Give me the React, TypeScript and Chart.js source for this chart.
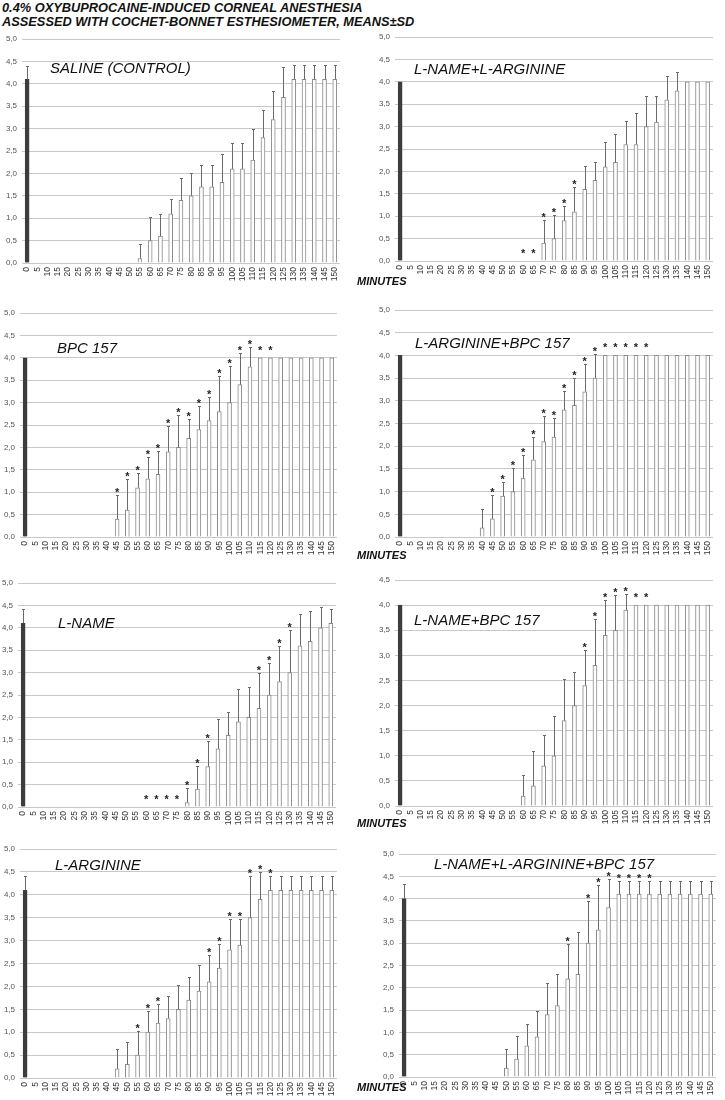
import React, { useEffect, useRef } from "react";
import { Chart, registerables } from "chart.js";
Chart.register(...registerables);

const FONT = '"Liberation Sans", Arial, Helvetica, sans-serif';

const MINUTES = ["0","5","10","15","20","25","30","35","40","45","50","55","60","65","70","75","80","85","90","95","100","105","110","115","120","125","130","135","140","145","150"];

const salineMean = [4.1,0,0,0,0,0,0,0,0,0,0,0.1,0.5,0.6,1.1,1.4,1.5,1.7,1.7,1.8,2.1,2.1,2.3,2.8,3.2,3.7,4.1,4.1,4.1,4.1,4.1];
const salineSD   = [0.3,0,0,0,0,0,0,0,0,0,0,0.32,0.52,0.5,0.32,0.5,0.52,0.48,0.48,0.63,0.57,0.57,0.68,0.62,0.63,0.67,0.32,0.32,0.32,0.32,0.32];
const salineSig  = [0,0,0,0,0,0,0,0,0,0,0,0,0,0,0,0,0,0,0,0,0,0,0,0,0,0,0,0,0,0,0];

const nameArgMean = [4.0,0,0,0,0,0,0,0,0,0,0,0,0,0,0.4,0.5,0.9,1.1,1.6,1.8,2.1,2.2,2.6,2.6,3.0,3.1,3.6,3.8,4.0,4.0,4.0];
const nameArgSD   = [0,0,0,0,0,0,0,0,0,0,0,0,0,0,0.52,0.53,0.32,0.56,0.53,0.42,0.56,0.64,0.52,0.7,0.68,0.58,0.52,0.42,0,0,0];
const nameArgSig  = [0,0,0,0,0,0,0,0,0,0,0,0,1,1,1,1,1,1,0,0,0,0,0,0,0,0,0,0,0,0,0];

const bpcMean = [4.0,0,0,0,0,0,0,0,0,0.4,0.6,1.1,1.3,1.4,1.9,2.0,2.2,2.4,2.6,2.8,3.0,3.4,3.8,4.0,4.0,4.0,4.0,4.0,4.0,4.0,4.0];
const bpcSD   = [0,0,0,0,0,0,0,0,0,0.53,0.7,0.32,0.48,0.52,0.57,0.72,0.43,0.52,0.52,0.8,0.82,0.7,0.43,0,0,0,0,0,0,0,0];
const bpcSig  = [0,0,0,0,0,0,0,0,0,1,1,1,1,1,1,1,1,1,1,1,1,1,1,1,1,0,0,0,0,0,0];

const argBpcMean = [4.0,0,0,0,0,0,0,0,0.2,0.4,0.9,1.0,1.3,1.7,2.1,2.2,2.8,2.9,3.2,3.5,4.0,4.0,4.0,4.0,4.0,4.0,4.0,4.0,4.0,4.0,4.0];
const argBpcSD   = [0,0,0,0,0,0,0,0,0.42,0.52,0.32,0.52,0.5,0.5,0.57,0.42,0.42,0.6,0.62,0.53,0,0,0,0,0,0,0,0,0,0,0];
const argBpcSig  = [0,0,0,0,0,0,0,0,0,1,1,1,1,1,1,1,1,1,1,1,1,1,1,1,1,0,0,0,0,0,0];

const nameMean = [4.1,0,0,0,0,0,0,0,0,0,0,0,0,0,0,0,0.1,0.4,0.9,1.3,1.6,1.9,2.0,2.2,2.5,2.8,3.0,3.6,3.7,4.0,4.1];
const nameSD   = [0.32,0,0,0,0,0,0,0,0,0,0,0,0,0,0,0,0.32,0.52,0.58,0.67,0.52,0.74,0.68,0.8,0.71,0.8,0.94,0.7,0.68,0.47,0.32];
const nameSig  = [0,0,0,0,0,0,0,0,0,0,0,0,1,1,1,1,1,1,1,0,0,0,0,1,1,1,1,0,0,0,0];

const nameBpcMean = [4.0,0,0,0,0,0,0,0,0,0,0,0,0.2,0.4,0.8,1.0,1.7,2.0,2.4,2.8,3.4,3.5,3.9,4.0,4.0,4.0,4.0,4.0,4.0,4.0,4.0];
const nameBpcSD   = [0,0,0,0,0,0,0,0,0,0,0,0,0.42,0.7,0.62,0.8,0.82,0.66,0.7,0.92,0.7,0.7,0.32,0,0,0,0,0,0,0,0];
const nameBpcSig  = [0,0,0,0,0,0,0,0,0,0,0,0,0,0,0,0,0,0,1,1,1,1,1,1,1,0,0,0,0,0,0];

const argMean = [4.1,0,0,0,0,0,0,0,0,0.2,0.3,0.5,1.0,1.2,1.3,1.5,1.7,1.9,2.1,2.4,2.8,2.9,3.5,3.9,4.1,4.1,4.1,4.1,4.1,4.1,4.1];
const argSD   = [0.31,0,0,0,0,0,0,0,0,0.43,0.48,0.52,0.47,0.42,0.48,0.53,0.5,0.57,0.58,0.52,0.67,0.57,0.9,0.6,0.3,0.3,0.3,0.3,0.3,0.3,0.3];
const argSig  = [0,0,0,0,0,0,0,0,0,0,0,1,1,1,0,0,0,0,1,1,1,1,1,1,1,0,0,0,0,0,0];

const tripleMean = [4.0,0,0,0,0,0,0,0,0,0,0.2,0.4,0.7,0.9,1.4,1.6,2.2,2.3,3.0,3.3,3.8,4.1,4.1,4.1,4.1,4.1,4.1,4.1,4.1,4.1,4.1];
const tripleSD   = [0.32,0,0,0,0,0,0,0,0,0,0.43,0.52,0.49,0.58,0.71,0.71,0.78,0.95,0.95,1.0,0.65,0.3,0.3,0.3,0.3,0.3,0.3,0.3,0.3,0.3,0.3];
const tripleSig  = [0,0,0,0,0,0,0,0,0,0,0,0,0,0,0,0,1,0,1,1,1,1,1,1,1,0,0,0,0,0,0];

const TITLES = [
  "SALINE (CONTROL)",
  "L-NAME+L-ARGININE",
  "BPC 157",
  "L-ARGININE+BPC 157",
  "L-NAME",
  "L-NAME+BPC 157",
  "L-ARGININE",
  "L-NAME+L-ARGININE+BPC 157",
];

// layout (chart area boxes and label positions)
const PANELS = [
  { title: TITLES[0], mean: salineMean, sd: salineSD, sig: salineSig, yMax: 5, l: 22, r: 347, t: 39, b: 263, tx: 50, ty: 62 },
  { title: TITLES[1], mean: nameArgMean, sd: nameArgSD, sig: nameArgSig, yMax: 5, l: 395, r: 720, t: 37, b: 261, tx: 414, ty: 63 },
  { title: TITLES[2], mean: bpcMean, sd: bpcSD, sig: bpcSig, yMax: 5, l: 20, r: 344, t: 313, b: 537, tx: 57, ty: 342 },
  { title: TITLES[3], mean: argBpcMean, sd: argBpcSD, sig: argBpcSig, yMax: 5, l: 395, r: 720, t: 310, b: 537, tx: 415, ty: 337 },
  { title: TITLES[4], mean: nameMean, sd: nameSD, sig: nameSig, yMax: 5, l: 18, r: 343, t: 583, b: 807, tx: 58, ty: 617 },
  { title: TITLES[5], mean: nameBpcMean, sd: nameBpcSD, sig: nameBpcSig, yMax: 4.5, l: 395, r: 720, t: 580, b: 806, tx: 414, ty: 614 },
  { title: TITLES[6], mean: argMean, sd: argSD, sig: argSig, yMax: 5, l: 20, r: 344, t: 849, b: 1078, tx: 55, ty: 859 },
  { title: TITLES[7], mean: tripleMean, sd: tripleSD, sig: tripleSig, yMax: 5, l: 399, r: 723, t: 854, b: 1077, tx: 434, ty: 858 },
];

const MINUTES_LABEL_TOPS = [277, 551, 819, 1083];

const Y_W = 22;
const PAD_T = 10;
const PAD_R = 2;
const X_H = 30;
const PAD_B = 2;

function makeErrPlugin(sd: number[], sig: number[]) {
  return {
    id: "errbars",
    afterDatasetsDraw(chart: any) {
      const { ctx } = chart;
      const y = chart.scales.y;
      const meta = chart.getDatasetMeta(0);
      const data = chart.data.datasets[0].data as number[];
      ctx.save();
      meta.data.forEach((bar: any, i: number) => {
        const v = data[i];
        const cx = Math.round(bar.x) + 0.5;
        const yTop = y.getPixelForValue(v);
        let starCenter: number;
        if (sd[i] > 0) {
          const ye = Math.round(y.getPixelForValue(v + sd[i])) + 0.5;
          ctx.strokeStyle = "#6a6a6a";
          ctx.lineWidth = 1;
          ctx.beginPath();
          ctx.moveTo(cx, yTop);
          ctx.lineTo(cx, ye);
          ctx.moveTo(cx - 1.5, ye);
          ctx.lineTo(cx + 1.5, ye);
          ctx.stroke();
          starCenter = ye - 5.5;
        } else {
          starCenter = yTop - 10.5;
        }
        if (sig[i]) {
          ctx.fillStyle = "#222";
          ctx.font = `bold 11px ${FONT}`;
          ctx.textAlign = "center";
          ctx.textBaseline = "alphabetic";
          ctx.fillText("*", bar.x, starCenter + 6.3);
        }
      });
      ctx.restore();
    },
  };
}

function BarPanel({ p }: { p: any }) {
  const ref = useRef<HTMLCanvasElement | null>(null);
  const W = p.r - p.l + Y_W + PAD_R;
  const H = p.b - p.t + PAD_T + X_H + PAD_B;
  useEffect(() => {
    const canvas = ref.current;
    if (!canvas) return;
    const chart = new Chart(canvas, {
      type: "bar",
      data: {
        labels: MINUTES,
        datasets: [
          {
            data: p.mean,
            backgroundColor: p.mean.map((_: number, i: number) => (i === 0 ? "#3d3d3d" : "#ffffff")),
            borderColor: p.mean.map((_: number, i: number) => (i === 0 ? "#3d3d3d" : "#8a8a8a")),
            borderWidth: p.mean.map((v: number) => (v === 0 ? 0 : 1)),
            borderSkipped: "start",
            barThickness: 4,
          },
        ],
      },
      options: {
        responsive: false,
        animation: false,
        devicePixelRatio: 1,
        layout: { padding: { left: 0, right: PAD_R, top: PAD_T, bottom: PAD_B } },
        plugins: {
          legend: { display: false },
          tooltip: { enabled: false },
          title: { display: false },
        },
        scales: {
          x: {
            grid: { display: false, drawTicks: false },
            border: { display: false },
            ticks: {
              autoSkip: false,
              maxRotation: 90,
              minRotation: 90,
              padding: 4,
              color: "#333",
              font: { size: 8.5, family: FONT },
            },
            afterFit: (s: any) => {
              s.height = X_H;
            },
          },
          y: {
            min: 0,
            max: p.yMax,
            ticks: {
              stepSize: 0.5,
              padding: 5,
              color: "#555",
              font: { size: 8, family: FONT },
              callback: (v: any) => Number(v).toFixed(1).replace(".", ","),
            },
            grid: { color: "#c8c8c8", lineWidth: 1, drawTicks: false },
            border: { display: false },
            afterFit: (s: any) => {
              s.width = Y_W;
            },
          },
        },
      },
      plugins: [makeErrPlugin(p.sd, p.sig)],
    } as any);
    return () => chart.destroy();
  }, []);
  return (
    <canvas
      ref={ref}
      width={W}
      height={H}
      style={{ position: "absolute", left: p.l - Y_W, top: p.t - PAD_T, width: W, height: H }}
    />
  );
}

export default function App() {
  return (
    <div
      style={{
        position: "absolute",
        left: 0,
        top: 0,
        width: 725,
        height: 1100,
        overflow: "hidden",
        background: "#fff",
        fontFamily: FONT,
      }}
    >
      <div
        style={{
          position: "absolute",
          left: 2,
          top: 0.5,
          fontSize: 12.8,
          lineHeight: "14.5px",
          fontWeight: "bold",
          fontStyle: "italic",
          color: "#111",
          whiteSpace: "nowrap",
        }}
      >
        <div>0.4% OXYBUPROCAINE-INDUCED CORNEAL ANESTHESIA</div>
        <div>ASSESSED WITH COCHET-BONNET ESTHESIOMETER, MEANS±SD</div>
      </div>
      {PANELS.map((p, i) => (
        <BarPanel key={i} p={p} />
      ))}
      {PANELS.map((p, i) => (
        <div
          key={"t" + i}
          style={{
            position: "absolute",
            left: p.tx,
            top: p.ty - 2,
            fontSize: 15,
            lineHeight: "15px",
            fontStyle: "italic",
            color: "#111",
            whiteSpace: "nowrap",
          }}
        >
          {p.title}
        </div>
      ))}
      {MINUTES_LABEL_TOPS.map((y, i) => (
        <div
          key={"m" + i}
          style={{
            position: "absolute",
            left: 357,
            top: y - 1.5,
            fontSize: 11,
            lineHeight: "11px",
            fontWeight: "bold",
            fontStyle: "italic",
            color: "#111",
            whiteSpace: "nowrap",
          }}
        >
          MINUTES
        </div>
      ))}
    </div>
  );
}
